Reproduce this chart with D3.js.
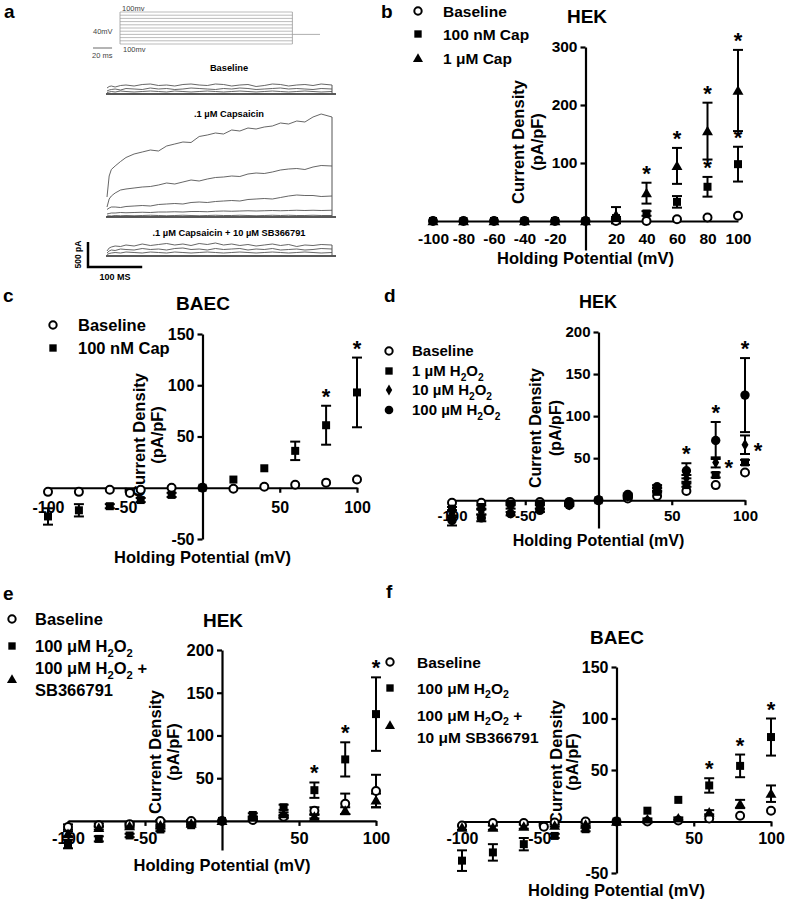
<!DOCTYPE html>
<html><head><meta charset="utf-8">
<script src="https://cdn.jsdelivr.net/npm/d3@7"></script>
<style>
body{margin:0;background:#fff}
svg{font-family:"Liberation Sans",Arial,Helvetica,sans-serif;font-weight:bold}
</style>
</head><body>
<svg id="fig" width="785" height="900"></svg>
<script>
// ---------------- DATA ----------------
const potentials = [-100,-80,-60,-40,-20,0,20,40,60,80,100];
const potentialsExtra = [-100,-80,-60,-47,-40,-20,0,20,40,60,80,100];

// panel b (HEK, capsaicin)
const bBaseline = [0,0,0,0,0,0,0,0,3,6,9];
const bCap100 = [0,0,0,0,0,0,5,13,33,59,98];
const bCap100Err = [0,0,0,0,0,0,2,4,10,17,30];
const bCap1u = [0,0,0,0,0,0,10,48,95,155,225];
const bCap1uErr = [0,0,0,0,0,0,14,18,31,49,70];
const bCap100Stars = [80,100];
const bCap1uStars = [40,60,80,100];

// panel c (BAEC, capsaicin)
const cBaseline = [-4,-4,-2,-5,-2,0,0,-1,1,3,5,8];
const cCap = [-28,-22,-18,-12,-7,0,8,19,36,61,93];
const cCapErr = [8,6,2,2,2,0,0,0,9,19,34];
const cCapStars = [80,100];

// panel d (HEK, H2O2 dose)
const dBaseline = [-3,-3,-2,-2,-2,0,2,5,11,18,33];
const dH1 = [-10,-8,-4,-4,-3,0,4,10,18,30,45];
const dH1Err = [2,2,1,1,1,0,1,1,2,3,3];
const dH10 = [-16,-14,-8,-8,-5,0,5,13,26,45,66];
const dH10Err = [4,3,2,2,1,0,1,2,4,6,11];
const dH100 = [-24,-21,-16,-12,-6,0,7,16,35,71,125];
const dH100Err = [6,4,2,2,1,0,1,2,9,22,44];
const dH100Stars = [60,80,100];
const dH10Stars = [80,100];

// panel e (HEK, H2O2 + SB366791)
const eBaseline = [-7,-5,-4,0,0,0,1,5,12,20,35];
const eBaselineErr = [3,2,2,1,1,0,1,2,4,12,19];
const eH2O2 = [-27,-21,-17,-10,-5,0,7,16,36,72,125];
const eH2O2Err = [5,3,2,2,1,0,2,3,9,20,43];
const eSB = [-15,-8,-6,-5,-3,0,4,8,5,12,24];
const eSBErr = [3,2,2,1,1,0,1,2,2,4,8];
const eH2O2Stars = [60,80,100];

// panel f (BAEC, H2O2 + SB366791)
const fBaseline = [-4,-1.5,-1.5,-5,-1,0,0,0,1,3,5.5,10.5];
const fH2O2 = [-38,-30,-22,-14,-7.5,0,10.5,21,35,54,82];
const fH2O2Err = [10,8,6,2,2,0,0,0,7,11,18];
const fSB = [-6,-6,-5,-4,-3,0,2,3,9,17,27];
const fSBErr = [2,2,2,1,1,0,1,1,2,4,8];
const fH2O2Stars = [60,80,100];

// tick labels
const xTicksB = [-100,-80,-60,-40,-20,20,40,60,80,100];
const xTicksStd = [-100,-50,50,100];
const yTicksB = [100,200,300];
const yTicksBAEC = [-50,50,100,150];
const yTicksHEK = [50,100,150,200];

// panel a: voltage protocol and current traces
const protocolLevels = [100,80,60,40,20,0,-20,-40,-60,-80,-100];
const holdingPotential = -40;
const traceTimes = [0,4,8,15,25,35,50,65,80,95,110,125,140,155,170,185,200,215,230,245,260,275,290,305,320,335,350,365,380,395,415];
const baseTraces = [
 [120,150,160,140,170,180,160,190,200,170,180,160,190,200,180,170,200,190,160,180,190,150,170,200,190,160,180,190,170,200,180],
 [60,80,90,100,80,110,100,90,120,100,110,90,100,120,110,100,90,110,100,120,110,90,100,110,120,100,110,100,90,110,100],
 [30,40,50,40,60,50,40,50,60,50,40,60,50,40,50,60,50,40,50,60,50,40,50,60,50,40,50,60,50,40,50]
];
const capTraces = [
 [400,820,950,1020,1110,1190,1260,1300,1340,1320,1420,1460,1500,1490,1610,1640,1680,1660,1740,1720,1780,1760,1800,1820,1880,1860,1920,1900,2000,2060,2000],
 [200,360,420,480,540,560,580,600,610,640,680,660,700,740,720,760,790,800,820,810,860,880,870,900,940,960,970,950,1000,1030,1020],
 [150,180,200,200,190,210,220,230,220,250,260,270,260,290,300,290,310,320,330,320,350,360,370,360,390,420,440,430,430,410,420],
 [60,70,80,80,90,85,90,95,90,100,100,105,100,110,110,105,115,120,115,120,125,120,125,130,125,130,135,130,135,130,135],
 [20,25,20,30,25,30,25,30,35,30,25,30,35,30,25,30,35,30,30,35,30,25,30,35,30,35,30,30,35,30,30]
];
const sbTraces = [
 [100,160,180,200,190,220,200,240,210,230,250,220,240,210,250,230,260,220,240,210,230,200,220,240,210,230,190,220,210,230,220],
 [60,100,120,110,140,130,120,150,130,140,120,150,160,130,140,120,150,130,140,150,120,140,130,150,120,130,140,120,130,150,140],
 [30,50,60,70,60,80,70,60,80,70,60,80,70,60,70,80,70,60,70,80,70,60,70,80,70,60,70,80,70,60,70]
];

// ---------------- DRAWING ----------------
const svg = d3.select("#fig");

function richText(g, x, y, parts, fs, anchor) {
  const t = g.append("text").attr("x", x).attr("y", y).attr("font-size", fs)
    .attr("text-anchor", anchor || "start");
  const shift = fs * 0.28;
  let sub = false;
  parts.forEach(p => {
    if (typeof p === "string") {
      t.append("tspan").attr("dy", sub ? -shift : 0).text(p);
      sub = false;
    } else {
      t.append("tspan").attr("dy", shift).attr("font-size", fs*0.68).text(p.sub);
      sub = true;
    }
  });
  return t;
}

function drawMarker(g, type, cx, cy, k) {
  k = k || 1;
  if (type === "open") {
    g.append("circle").attr("cx", cx).attr("cy", cy).attr("r", 4*k)
      .attr("fill", "#fff").attr("stroke", "#000").attr("stroke-width", 2);
  } else if (type === "dot") {
    g.append("circle").attr("cx", cx).attr("cy", cy).attr("r", 4.7*k).attr("fill", "#000");
  } else {
    const sym = {square: d3.symbolSquare, triangle: d3.symbolTriangle, diamond: d3.symbolDiamond}[type];
    const size = {square: 64, triangle: 52, diamond: 42}[type] * k * k;
    g.append("path").attr("d", d3.symbol().type(sym).size(size)())
      .attr("transform", `translate(${cx},${cy + (type==="triangle" ? 1 : 0)})`).attr("fill", "#000");
  }
}

function drawPanel(cfg) {
  const g = svg.append("g");
  const x = d3.scaleLinear().domain([-100,100]).range(cfg.xr);
  const y = d3.scaleLinear().domain(cfg.yd).range(cfg.yr);
  const fmt = d => String(d);

  // y axis
  const ya = g.append("g").attr("transform", `translate(${x(0)},0)`)
    .call(d3.axisLeft(y).tickValues(cfg.yTicks).tickFormat(fmt).tickSize(5).tickSizeOuter(0).tickPadding(3));
  ya.select(".domain").attr("stroke-width", 2.2);
  ya.selectAll(".tick line").attr("stroke-width", 2.2);
  ya.selectAll("text").attr("font-size", cfg.tickFs).attr("fill", "#000")
    .attr("font-family", "Liberation Sans, Arial").attr("font-weight", "bold");

  // x axis
  const xa = g.append("g").attr("transform", `translate(0,${y(0)})`)
    .call(d3.axisBottom(x).tickValues(cfg.xTicks).tickFormat(fmt).tickSize(cfg.xTickSize).tickSizeOuter(0));
  xa.select(".domain").attr("stroke-width", 2.2);
  xa.selectAll(".tick line").attr("stroke-width", 2.2);
  xa.selectAll("text").attr("font-size", cfg.tickFs).attr("fill", "#000")
    .attr("font-family", "Liberation Sans, Arial").attr("font-weight", "bold")
    .attr("y", cfg.labelOff).attr("dy", "0.36em");
  g.selectAll(".domain, .tick line").attr("stroke", "#000");

  // titles
  g.append("text").attr("x", cfg.title[1]).attr("y", cfg.title[2] + cfg.title[3]*0.36)
    .attr("text-anchor", "middle").attr("font-size", cfg.title[3]).text(cfg.title[0]);
  g.append("text").attr("x", x(0) + cfg.xTitle[0]).attr("y", cfg.xTitle[1] + cfg.xTitle[2]*0.36)
    .attr("text-anchor", "middle").attr("font-size", cfg.xTitle[2]).text("Holding Potential (mV)");
  [["Current Density", cfg.yTitle[0]], ["(pA/pF)", cfg.yTitle[1]]].forEach(([t, xx]) => {
    g.append("text").attr("transform", `translate(${xx + cfg.yTitle[3]*0.36},${cfg.yTitle[2]}) rotate(-90)`)
      .attr("text-anchor", "middle").attr("font-size", cfg.yTitle[3]).text(t);
  });
  // panel letter
  g.append("text").attr("x", cfg.letter[1]).attr("y", cfg.letter[2]).attr("font-size", 19).text(cfg.letter[0]);

  // series: error bars
  cfg.series.forEach(s => {
    if (!s.err) return;
    s.x.forEach((xv, i) => {
      const e = s.err[i]; if (!e) return;
      const px = x(xv), y1 = y(s.v[i] + e), y2 = y(s.v[i] - e);
      g.append("line").attr("x1", px).attr("x2", px).attr("y1", y1).attr("y2", y2)
        .attr("stroke", "#000").attr("stroke-width", 2);
      [y1, y2].forEach(yy => g.append("line").attr("x1", px - 5).attr("x2", px + 5)
        .attr("y1", yy).attr("y2", yy).attr("stroke", "#000").attr("stroke-width", 2));
    });
  });
  // markers
  cfg.series.forEach(s => {
    s.x.forEach((xv, i) => drawMarker(g, s.type, x(xv), y(s.v[i])));
  });
  // stars
  cfg.series.forEach(s => {
    if (!s.stars) return;
    s.stars.forEach(xv => {
      const i = s.x.indexOf(xv);
      const top = y(s.v[i] + (s.err ? s.err[i] : 0));
      if (s.starSide === "right") {
        g.append("text").attr("x", x(xv) + 13).attr("y", y(s.v[i]) + 13)
          .attr("text-anchor", "middle").attr("font-size", 22).text("*");
      } else {
        g.append("text").attr("x", x(xv)).attr("y", top - 2)
          .attr("text-anchor", "middle").attr("font-size", 22).text("*");
      }
    });
  });
  // legend
  cfg.legend.forEach(l => {
    drawMarker(g, l.type, cfg.legendX[0], l.my, 0.92);
    l.lines.forEach((ln, j) => richText(g, cfg.legendX[1], l.ty[j] + cfg.legendFs*0.36, ln, cfg.legendFs));
  });
}

const H2 = {sub:"2"};

// panel b
drawPanel({
  xr:[433,738], yd:[-50,300], yr:[250,47], yTicks:yTicksB, xTicks:xTicksB, xTickSize:0,
  tickFs:15.5, labelOff:17, title:["HEK",587,16,19], xTitle:[0,258,16.5], yTitle:[518,537,142,16.5],
  letter:["b",381,18],
  series:[
    {x:potentials, v:bBaseline, type:"open"},
    {x:potentials, v:bCap100, err:bCap100Err, type:"square", stars:bCap100Stars},
    {x:potentials, v:bCap1u, err:bCap1uErr, type:"triangle", stars:bCap1uStars}
  ],
  legendX:[418,443], legendFs:15.5,
  legend:[
    {type:"open", my:11, ty:[11], lines:[["Baseline"]]},
    {type:"square", my:34, ty:[34], lines:[["100 nM Cap"]]},
    {type:"triangle", my:58, ty:[58], lines:[["1 μM Cap"]]}
  ]
});

// panel c
drawPanel({
  xr:[48,357], yd:[-50,150], yr:[539,334], yTicks:yTicksBAEC, xTicks:xTicksStd, xTickSize:5,
  tickFs:16, labelOff:19, title:["BAEC",203,303,19], xTitle:[0,557,16.5], yTitle:[139,157,435,16.5],
  letter:["c",3,302],
  series:[
    {x:potentialsExtra, v:cBaseline, type:"open"},
    {x:potentials, v:cCap, err:cCapErr, type:"square", stars:cCapStars}
  ],
  legendX:[53,78], legendFs:16.5,
  legend:[
    {type:"open", my:325, ty:[325], lines:[["Baseline"]]},
    {type:"square", my:348, ty:[348], lines:[["100 nM Cap"]]}
  ]
});

// panel d
drawPanel({
  xr:[452,745], yd:[-33,200], yr:[528,332], yTicks:yTicksHEK, xTicks:xTicksStd, xTickSize:5,
  tickFs:15, labelOff:15, title:["HEK",598,302,18], xTitle:[0,540,16], yTitle:[535,555,428,16],
  letter:["d",384,302],
  series:[
    {x:potentials, v:dBaseline, type:"open"},
    {x:potentials, v:dH1, err:dH1Err, type:"square"},
    {x:potentials, v:dH10, err:dH10Err, type:"diamond", stars:dH10Stars, starSide:"right"},
    {x:potentials, v:dH100, err:dH100Err, type:"dot", stars:dH100Stars}
  ],
  legendX:[389,412], legendFs:15,
  legend:[
    {type:"open", my:351, ty:[351], lines:[["Baseline"]]},
    {type:"square", my:371, ty:[371], lines:[["1 µM H", H2, "O", H2]]},
    {type:"diamond", my:390, ty:[390], lines:[["10 µM H", H2, "O", H2]]},
    {type:"dot", my:410, ty:[410], lines:[["100 µM H", H2, "O", H2]]}
  ]
});

// panel e
drawPanel({
  xr:[68,376], yd:[-34,200], yr:[850,650], yTicks:yTicksHEK, xTicks:xTicksStd, xTickSize:5,
  tickFs:16.5, labelOff:17, title:["HEK",223,620,19], xTitle:[0,865,16.5], yTitle:[155,173,752,16.5],
  letter:["e",3,600],
  series:[
    {x:potentials, v:eBaseline, err:eBaselineErr, type:"open"},
    {x:potentials, v:eH2O2, err:eH2O2Err, type:"square", stars:eH2O2Stars},
    {x:potentials, v:eSB, err:eSBErr, type:"triangle"}
  ],
  legendX:[12,35], legendFs:16.5,
  legend:[
    {type:"open", my:619, ty:[619], lines:[["Baseline"]]},
    {type:"square", my:646, ty:[646], lines:[["100 μM H", H2, "O", H2]]},
    {type:"triangle", my:679, ty:[668,690], lines:[["100 μM H", H2, "O", H2, " +"], ["SB366791"]]}
  ]
});

// panel f
drawPanel({
  xr:[462,771], yd:[-50,150], yr:[873,667], yTicks:yTicksBAEC, xTicks:xTicksStd, xTickSize:5,
  tickFs:16, labelOff:17, title:["BAEC",617,637,19], xTitle:[0,890,16.5], yTitle:[556,572,762,16.5],
  letter:["f",386,598],
  series:[
    {x:potentialsExtra, v:fBaseline, type:"open"},
    {x:potentials, v:fH2O2, err:fH2O2Err, type:"square", stars:fH2O2Stars},
    {x:potentials, v:fSB, err:fSBErr, type:"triangle"}
  ],
  legendX:[390,417], legendFs:15.5,
  legend:[
    {type:"open", my:662, ty:[662], lines:[["Baseline"]]},
    {type:"square", my:688, ty:[688], lines:[["100 μM H", H2, "O", H2]]},
    {type:"triangle", my:725, ty:[715,737], lines:[["100 μM H", H2, "O", H2, " +"], ["10 μM SB366791"]]}
  ]
});

// ---------------- panel a ----------------
(function(){
  const g = svg.append("g");
  g.append("text").attr("x", 4).attr("y", 18).attr("font-size", 19).text("a");

  // voltage protocol
  const pt = d3.scaleLinear().domain([0,210]).range([120,320]);
  const pv = d3.scaleLinear().domain([-100,100]).range([44,12]);
  const pulseEnd = 181;
  protocolLevels.forEach(v => {
    g.append("line").attr("x1", pt(0)).attr("x2", pt(pulseEnd)).attr("y1", pv(v)).attr("y2", pv(v))
      .attr("stroke", "#aaa").attr("stroke-width", 0.8);
  });
  g.append("line").attr("x1", pt(0)).attr("x2", pt(0)).attr("y1", pv(100)).attr("y2", pv(-100)).attr("stroke", "#999").attr("stroke-width", 0.8);
  g.append("line").attr("x1", pt(pulseEnd)).attr("x2", pt(pulseEnd)).attr("y1", pv(100)).attr("y2", pv(-100)).attr("stroke", "#999").attr("stroke-width", 0.8);
  g.append("line").attr("x1", pt(pulseEnd)).attr("x2", pt(210)).attr("y1", pv(holdingPotential)).attr("y2", pv(holdingPotential)).attr("stroke", "#999").attr("stroke-width", 0.8);
  const nf = g.append("g").attr("font-weight", "normal").attr("fill", "#444").attr("font-size", 7.5);
  nf.append("text").attr("x", 122).attr("y", 11).text("100mv");
  nf.append("text").attr("x", 123).attr("y", 52).text("100mv");
  nf.append("text").attr("x", 93).attr("y", 34).text("40mV");
  g.append("line").attr("x1", 93).attr("x2", 93 + (pt(20)-pt(0))).attr("y1", 48).attr("y2", 48).attr("stroke", "#444").attr("stroke-width", 0.8);
  nf.append("text").attr("x", 92).attr("y", 58).text("20 ms");

  // current traces
  const tx = d3.scaleLinear().domain([0,415]).range([107,332]);
  const amp = d3.scaleLinear().domain([0,500]).range([0,25]);
  const groups = [
    {base:94, traces:baseTraces, title:"Baseline", ty:67},
    {base:217, traces:capTraces, title:".1 µM Capsaicin", ty:113},
    {base:256, traces:sbTraces, title:".1 µM Capsaicin + 10 µM SB366791", ty:232}
  ];
  groups.forEach(gr => {
    g.append("text").attr("x", 229).attr("y", gr.ty + 3.5).attr("text-anchor", "middle")
      .attr("font-size", 9.3).text(gr.title);
    gr.traces.forEach(tr => {
      const line = d3.line().x((d,i) => tx(traceTimes[i])).y(d => gr.base - amp(d));
      g.append("path").attr("d", line(tr)).attr("fill", "none").attr("stroke", "#555").attr("stroke-width", 0.9);
    });
    g.append("line").attr("x1", tx(0) - 1).attr("x2", tx(415) + 4).attr("y1", gr.base).attr("y2", gr.base)
      .attr("stroke", "#222").attr("stroke-width", 1.6);
    const maxLast = d3.max(gr.traces, tr => tr[tr.length-1]);
    g.append("line").attr("x1", tx(415)).attr("x2", tx(415)).attr("y1", gr.base).attr("y2", gr.base - amp(maxLast))
      .attr("stroke", "#555").attr("stroke-width", 1);
  });

  // scale bar
  const sx0 = 88, sy0 = 267;
  g.append("path").attr("d", `M${sx0},${sy0 - amp(500)}V${sy0}H${sx0 + (tx(100)-tx(0))}`)
    .attr("fill", "none").attr("stroke", "#000").attr("stroke-width", 2.5);
  g.append("text").attr("transform", `translate(81,${sy0 - amp(250)}) rotate(-90)`)
    .attr("text-anchor", "middle").attr("font-size", 8.5).text("500 pA");
  g.append("text").attr("x", sx0 + (tx(100)-tx(0))/2).attr("y", 280).attr("text-anchor", "middle")
    .attr("font-size", 9).text("100 MS");
})();
</script>
</body></html>
